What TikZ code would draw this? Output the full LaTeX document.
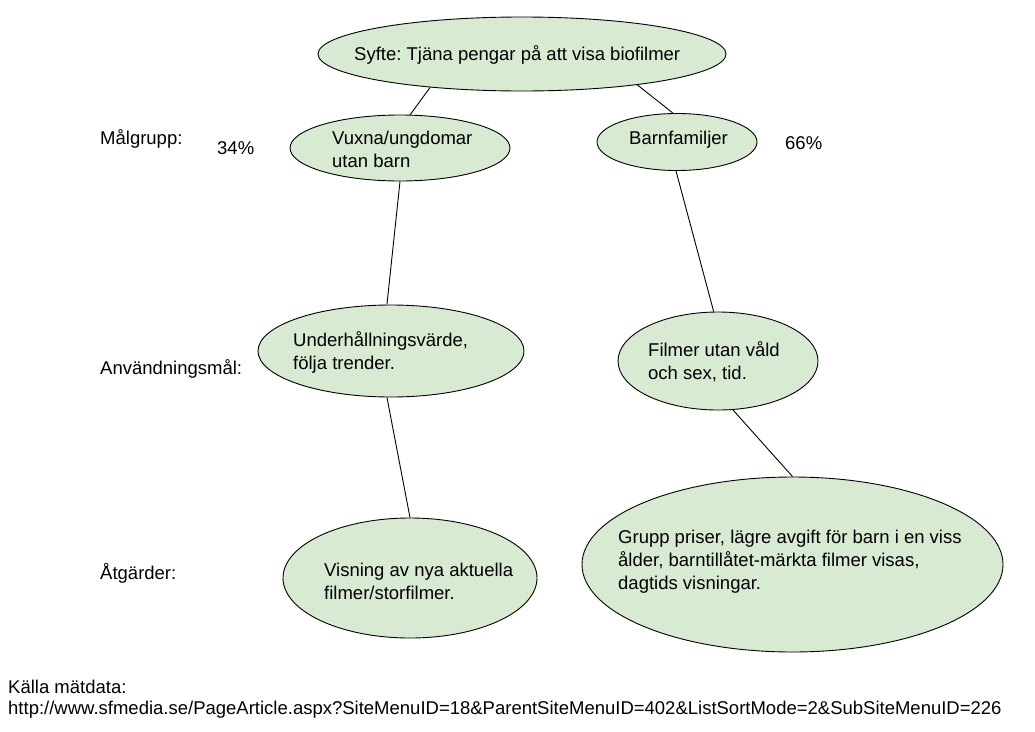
\documentclass[tikz,border=0pt]{standalone}
\usepackage{fontspec}
\setmainfont{Liberation Sans}
\usetikzlibrary{shapes.geometric}
\definecolor{bubble}{HTML}{D9EAD3}
\frenchspacing
\begin{document}
\begin{tikzpicture}[x=1pt,y=-1pt,
  bub/.style={ellipse,draw=black,fill=bubble,line width=0.9pt,inner sep=0pt},
  txt/.style={inner sep=0pt,align=left,font=\fontsize{18.5}{23}\selectfont\frenchspacing},
  conn/.style={draw=black,line width=0.9pt}]
\useasboundingbox (0,0) rectangle (1035,731);
% ellipses
\node[bub,minimum width=408,minimum height=74] (top) at (522,54) {};
\node[bub,minimum width=220,minimum height=66] (vux) at (400,148) {};
\node[bub,minimum width=160,minimum height=57] (barn) at (677,142) {};
\node[bub,minimum width=266,minimum height=92] (und) at (391,351) {};
\node[bub,minimum width=200,minimum height=98] (film) at (718,361) {};
\node[bub,minimum width=254,minimum height=120] (vis) at (410,578) {};
\node[bub,minimum width=421,minimum height=175] (grupp) at (792.5,564.5) {};
% texts in ellipses
\node[txt,anchor=base west] (ttop) at (354,60) {Syfte: Tjäna pengar på att visa biofilmer};
\node[txt,anchor=west] (tvux) at (332,149.5) {Vuxna/ungdomar\\utan barn};
\node[txt,anchor=base west] (tbarn) at (629,144) {Barnfamiljer};
\node[txt,anchor=west] (tund) at (293,352) {Underhållningsvärde,\\följa trender.};
\node[txt,anchor=west] (tfilm) at (648,362) {Filmer utan våld\\och sex, tid.};
\node[txt,anchor=west] (tvis) at (324,581) {Visning av nya aktuella\\filmer/storfilmer.};
\node[txt,anchor=west] (tgrupp) at (618,562) {Grupp priser, lägre avgift för barn i en viss\\ålder, barntillåtet-märkta filmer visas,\\dagtids visningar.};
% side labels
\node[txt,anchor=base west] (lmal) at (100,144.6) {Målgrupp:};
\node[txt,anchor=base west] (l34) at (217,154.6) {34\%};
\node[txt,anchor=base west] (l66) at (785,149.6) {66\%};
\node[txt,anchor=base west] (lanv) at (100,374.6) {Användningsmål:};
\node[txt,anchor=base west] (latg) at (100,579.6) {Åtgärder:};
\node[txt,anchor=base west] (lkalla) at (8,693.6) {Källa mätdata:};
\node[txt,anchor=base west] (lurl) at (8,714.6) {http://www.sfmedia.se/PageArticle.aspx?SiteMenuID=18\&ParentSiteMenuID=402\&ListSortMode=2\&SubSiteMenuID=226};
% connectors
\draw[conn] (top.200) -- (vux.73);
\draw[conn] (top.345) -- (barn.98);
\draw[conn] (vux.270) -- (und.95);
\draw[conn] (barn.268) -- (film.95);
\draw[conn] (und.265) -- (vis.90);
\draw[conn] (film.287) -- (grupp.90);
\end{tikzpicture}
\end{document}
